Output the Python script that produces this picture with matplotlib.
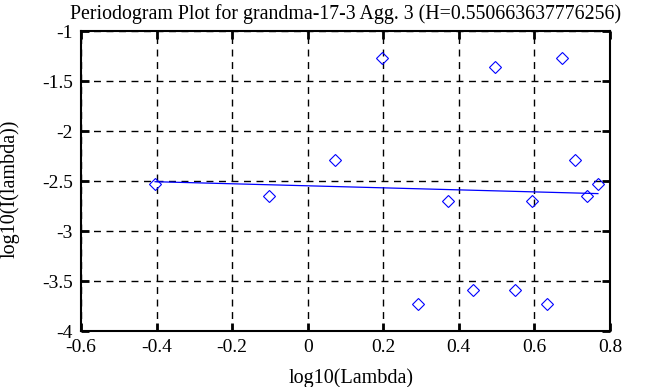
import matplotlib
matplotlib.use('Agg')
from matplotlib import pyplot as plt

# log10 of frequency vs log10 of periodogram
log_lambda = [-0.404, -0.103, 0.072, 0.196, 0.293, 0.372, 0.438, 0.496,
              0.548, 0.593, 0.634, 0.673, 0.707, 0.739, 0.768]
log_I = [-2.528, -2.649, -2.288, -1.267, -3.726, -2.699, -3.586, -1.363,
         -3.590, -2.702, -3.726, -1.267, -2.291, -2.649, -2.528]

# least squares fit line end points
fit_x = [-0.404, 0.768]
fit_y = [-2.507, -2.626]

title = 'Periodogram Plot for grandma-17-3 Agg. 3 (H=0.550663637776256)'

plt.rcParams['font.family'] = ['Liberation Serif', 'DejaVu Serif']

fig = plt.figure(figsize=(6.63, 3.87), dpi=100)
ax = fig.add_axes([81/663, 1 - 331/387, 529/663, 300/387])

ax.plot(log_lambda, log_I, linestyle='none', marker='D', markersize=6.6,
        markerfacecolor='none', markeredgecolor='blue', markeredgewidth=0.8)
ax.plot(fit_x, fit_y, color='blue', linewidth=0.9)

ax.set_xlim(-0.6, 0.8)
ax.set_ylim(-4, -1)
ax.set_xticks([-0.6, -0.4, -0.2, 0, 0.2, 0.4, 0.6, 0.8])
ax.set_xticklabels(['-0.6', '-0.4', '-0.2', '0', '0.2', '0.4', '0.6', '0.8'])
ax.set_yticks([-4, -3.5, -3, -2.5, -2, -1.5, -1])
ax.set_yticklabels(['-4', '-3.5', '-3', '-2.5', '-2', '-1.5', '-1'])

ax.grid(True, color='black', linestyle=(0, (5, 4)), linewidth=1)
ax.tick_params(direction='in', top=True, right=True, length=6, width=2,
               labelsize=14, pad=6)
for s in ax.spines.values():
    s.set_linewidth(1.5)

ax.set_xlabel('log10(Lambda)', fontsize=14.5)
ax.xaxis.set_label_coords(0.51, -0.125)
ax.set_ylabel('log10(I(lambda))', fontsize=14.5)
ax.yaxis.set_label_coords(-0.117, 0.475)
ax.set_title(title, fontsize=14.3, pad=9)

fig.savefig('out.png', dpi=100)
